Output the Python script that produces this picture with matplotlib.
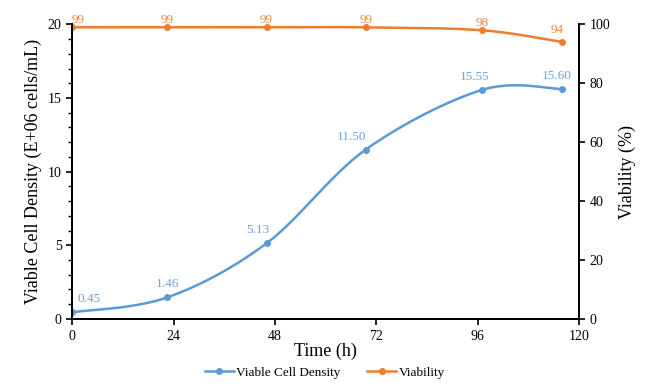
import numpy as np
import matplotlib.pyplot as plt
from matplotlib.ticker import MultipleLocator

time_h = [0, 22.5, 46, 69.5, 97, 116]
vcd = [0.45, 1.46, 5.13, 11.50, 15.55, 15.60]
viability = [99, 99, 99, 99, 98, 94]
vcd_labels = ["0.45", "1.46", "5.13", "11.50", "15.55", "15.60"]
via_labels = ["99", "99", "99", "99", "98", "94"]

blue = "#5B9BD5"
orange = "#ED7D31"


def smooth(x, y, n=40):
    # catmull-rom through the points, like excel's smoothed line
    p = np.column_stack([x, y]).astype(float)
    p = np.vstack([p[0], p, p[-1]])
    out = []
    for i in range(1, len(p) - 2):
        p0, p1, p2, p3 = p[i - 1], p[i], p[i + 1], p[i + 2]
        t = np.linspace(0, 1, n)[:, None]
        c = 0.5 * ((2 * p1) + (-p0 + p2) * t + (2 * p0 - 5 * p1 + 4 * p2 - p3) * t**2
                   + (-p0 + 3 * p1 - 3 * p2 + p3) * t**3)
        out.append(c)
    c = np.vstack(out)
    return c[:, 0], c[:, 1]


plt.rcParams['font.family'] = ['Liberation Serif', 'DejaVu Serif']

fig = plt.figure(figsize=(6.5, 3.87), dpi=100)
ax = fig.add_axes([0.111, 0.176, 0.78, 0.761])
ax2 = ax.twinx()

sx, sy = smooth(time_h, vcd)
ax.plot(sx, sy, color=blue, lw=1.8)
ax.plot(time_h, vcd, 'o', color=blue, ms=4)
sx2, sy2 = smooth(time_h, viability)
ax2.plot(sx2, sy2, color=orange, lw=1.8)
ax2.plot(time_h, viability, 'o', color=orange, ms=4)

offs_b = [(12, 5), (0, 5), (-6, 5), (-10, 5), (-5, 5), (-4, 5)]
for x, y, s, o in zip(time_h, vcd, vcd_labels, offs_b):
    ax.annotate(s, (x, y), xytext=o, textcoords='offset points', ha='center',
                va='bottom', color=blue, fontsize=9.5, alpha=0.9)
offs_o = [(4, 1), (0, 1), (0, 1), (0, 1), (0, 1), (-4, 4)]
for x, y, s, o in zip(time_h, viability, via_labels, offs_o):
    ax2.annotate(s, (x, y), xytext=o, textcoords='offset points', ha='center',
                 va='bottom', color=orange, fontsize=9.5, alpha=0.9)

ax.set_xlim(0, 120)
ax.set_ylim(0, 20)
ax2.set_ylim(0, 100)
ax.set_xticks([0, 24, 48, 72, 96, 120])
ax.set_yticks([0, 5, 10, 15, 20])
ax.yaxis.set_minor_locator(MultipleLocator(1))
ax2.set_yticks([0, 20, 40, 60, 80, 100])

for a in (ax, ax2):
    a.spines['top'].set_visible(False)
    for s in ('left', 'right', 'bottom'):
        a.spines[s].set_linewidth(1.4)
    a.tick_params(labelsize=10, width=1.2, length=4)
ax.tick_params(axis='y', which='minor', length=3, width=1)
ax.tick_params(axis='x', pad=4)

ax.set_xlabel('Time (h)', fontsize=13, labelpad=0)
ax.set_ylabel('Viable Cell Density (E+06 cells/mL)', fontsize=13)
ax2.set_ylabel('Viability (%)', fontsize=13, labelpad=6)

h1, = ax.plot([], [], '-o', color=blue, ms=4, lw=1.8, label='Viable Cell Density')
h2, = ax.plot([], [], '-o', color=orange, ms=4, lw=1.8, label='Viability')
fig.legend(handles=[h1, h2], loc='lower center', bbox_to_anchor=(0.5, -0.01), ncol=2,
           frameon=False, fontsize=9.5, handlelength=2.2, handletextpad=0.2,
           columnspacing=2.0)

fig.savefig('out.png', dpi=100)
